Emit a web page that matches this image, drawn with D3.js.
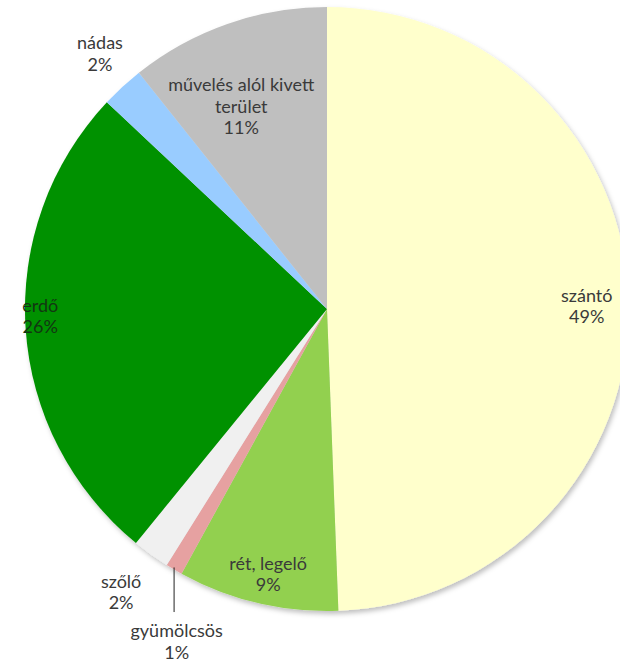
<!DOCTYPE html>
<html>
<head>
<meta charset="utf-8">
<script src="https://cdn.jsdelivr.net/npm/d3@7"></script>
<style>
  body { margin: 0; background: #fff; }
  svg text { font-family: Lato, "Open Sans", sans-serif; font-size: 18px; fill: #3a3a3a; }
</style>
</head>
<body>
<div id="chart"></div>
<script>
// land use shares, clockwise from 12 o'clock
var categories = ["szántó", "rét, legelő", "gyümölcsös", "szőlő", "erdő", "nádas", "művelés alól kivett terület"];
var shares = [49.4, 8.6, 0.9, 2.0, 26.1, 2.3, 10.7];
var labelLines = [["szántó"], ["rét, legelő"], ["gyümölcsös"], ["szőlő"], ["erdő"], ["nádas"], ["művelés alól kivett", "terület"]];
var colors = ["#ffffcc", "#92d050", "#e6a1a1", "#f0f0f0", "#009100", "#99ccff", "#bfbfbf"];

var wid = 620, heig = 665;
var cx = 327, cy = 309, radius = 302;

// label placement: angle (deg, clockwise from top) and distance as fraction of radius
var labelAt = [[89.5, 0.86], [192.5, 0.9], [204.3, 1.21], [216, 1.16], [268.5, 0.95], [318.3, 1.13], [337, 0.727]];

var svg = d3.select("#chart").append("svg")
    .attr("width", wid)
    .attr("height", heig);

var defs = svg.append("defs");
var shadow = defs.append("filter").attr("id", "shadow")
    .attr("x", "-10%").attr("y", "-10%").attr("width", "120%").attr("height", "120%");
shadow.append("feDropShadow")
    .attr("dx", 2).attr("dy", 3).attr("stdDeviation", 2.5)
    .attr("flood-color", "#000").attr("flood-opacity", 0.25);

var pie = d3.pie().sort(null).value(function(d) { return d; });
var arcs = pie(shares);
var arc = d3.arc().innerRadius(0).outerRadius(radius);

var g = svg.append("g").attr("transform", "translate(" + cx + "," + cy + ")");

g.append("g").attr("filter", "url(#shadow)")
  .selectAll("path")
  .data(arcs)
  .enter().append("path")
    .attr("d", arc)
    .attr("fill", function(d, i) { return colors[i]; });

function polar(angDeg, r) {
  var a = angDeg * Math.PI / 180;
  return [r * Math.sin(a), -r * Math.cos(a)];
}

// leader line for the small orchard slice
var gy = arcs[2];
var gyMid = (gy.startAngle + gy.endAngle) / 2 * 180 / Math.PI;
var p0 = polar(gyMid, radius);
var pl = polar(labelAt[2][0], labelAt[2][1] * radius);
g.append("line")
  .attr("x1", p0[0]).attr("y1", p0[1] - 2)
  .attr("x2", p0[0]).attr("y2", pl[1] - 30)
  .attr("stroke", "#222")
  .attr("stroke-width", 1);

var labels = g.selectAll("text.lbl")
  .data(arcs)
  .enter().append("text")
    .attr("class", "lbl")
    .attr("text-anchor", "middle")
    .attr("transform", function(d, i) {
      var p = polar(labelAt[i][0], labelAt[i][1] * radius);
      return "translate(" + p[0] + "," + p[1] + ")";
    })
    .style("fill", function(d, i) { return i == 4 ? "#123612" : "#3a3a3a"; });

labels.each(function(d, i) {
  var t = d3.select(this);
  var lines = labelLines[i].concat([Math.round(shares[i]) + "%"]);
  var n = lines.length;
  lines.forEach(function(s, k) {
    t.append("tspan")
      .attr("x", 0)
      .attr("y", (k - (n - 1) / 2) * 21.5 + 6)
      .text(s);
  });
});
</script>
</body>
</html>
